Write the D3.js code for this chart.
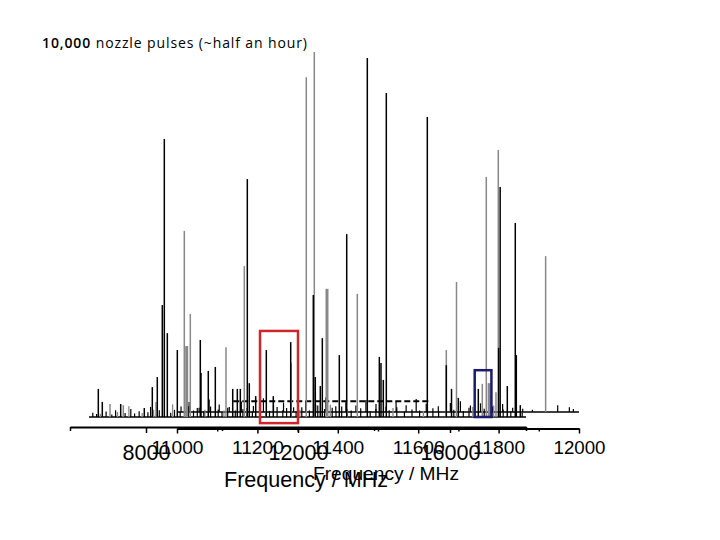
<!DOCTYPE html>
<html><head><meta charset="utf-8">
<script src="https://cdn.jsdelivr.net/npm/d3@7"></script>
<style>body{margin:0;background:#fff}svg{display:block}</style>
</head><body><svg id="c" width="720" height="540"></svg>
<script>
// ---------- text ----------
const titleBold = "10,000";
const titleRest = " nozzle pulses (~half an hour)";
const axisTitle = "Frequency / MHz";

// ---------- axes ----------
const surveyDomain = [6000, 18000];
const surveyTicks = [8000, 12000, 16000];
const surveyMinorTicks = [6000, 10000, 14000, 18000];
const detailDomain = [11000, 12000];
const detailTicks = [11000, 11200, 11400, 11600, 11800, 12000];
const detailMinorTicks = [11100, 11300, 11500, 11700, 11900];

// ---------- survey spectrum (6000-18000 MHz) ----------
const surveyBlackFreq = [6745,6850,7334,7955,8166,8297,8429,8482,8561,8824,9429,9447,9639,9824,10282,10403,10482,10666,10718,10887,11166,11350,11808,12403,12455,12587,12640,13087,13282,13824,14140,14184,14245,14324,15403,15903,16040,16219,16745,17280,17320,17508,17718,17745,17850];
const surveyBlackInt  = [7.8,4.2,3.6,2.5,8.3,11.1,31.1,77.2,23.3,18.6,21.4,12.2,12.8,13.9,7.8,7.8,7.8,66.1,9.4,5.8,18.6,5.8,20.8,33.9,11.1,8.6,21.9,17.2,50.8,99.7,16.7,15,10.3,90,83.3,14.4,7.8,5.3,7.8,19.2,63.9,8.6,53.9,17.2,3.3];
const surveyGrayFreq = [7053,7403,8263,9008,9166,10105,10587,11821,12218,12429,13561,15903,16171,16850,16955,17210,17271];
const surveyGrayInt  = [3.6,3.3,4.2,51.7,28.6,19.4,41.9,15,94.4,101.4,34.2,18.6,37.5,9.2,66.7,6.9,74.2];
const surveyGrayBroadFreq = [9071,12763,17031];
const surveyGrayBroadInt  = [19.7,35.6,9.4];
const surveyNoiseBlackFreq = [6600,6700,6950,7100,7200,7450,7600,7700,7820,8050,8120,8350,8650,8750,8900,9120,9250,9350,9520,9700,9900,10000,10150,10350,10550,10800,11000,11250,11450,11600,11700,11950,12100,12300,12520,12700,12900,13000,13150,13400,13650,13900,14050,14400,14600,14800,15000,15200,15550,15700,16100,16350,16500,16650,16900,17100,17400,17600,17900];
const surveyNoiseBlackInt  = [1.2,0.8,1.5,0.7,1.9,1.1,2.2,1.0,1.6,1.3,2.8,1.9,1.2,2.0,1.4,3.0,1.8,2.5,1.6,2.9,2.1,1.4,2.6,1.8,2.2,1.5,2.4,1.7,2.8,1.9,2.5,1.6,2.7,1.8,3.2,2.2,2.6,1.5,2.9,1.8,2.4,1.6,2.2,1.9,2.7,1.5,2.1,1.8,2.4,1.6,2.0,1.7,2.6,1.9,2.3,1.4,2.1,1.6,1.2];
const surveyNoiseGrayFreq = [6800,7250,7550,7900,8200,8700,9550,10050,10650,11150,12050,12850,13300,14500,15300,16600,17150];
const surveyNoiseGrayInt  = [0.9,1.4,3.0,1.1,2.0,3.5,2.0,1.8,2.5,1.6,2.0,3.4,2.2,2.5,1.7,2.8,3.2];

// ---------- detail spectrum (11000-12000 MHz) ----------
const detailGrayFreq = [11917];
const detailGrayInt  = [43.3];
const detailBlackFreq = [11010,11030,11055,11080,11105,11130,11160,11190,11215,11240,11265,11290,11320,11345,11370,11395,11420,11445,11470,11495,11520,11545,11570,11595,11620,11650,11680,11705,11730,11755,11785,11810,11835,11860,11884,11947,11976,11986];
const detailBlackInt  = [1.5,2.8,1.2,3.5,2.1,1.4,2.9,1.7,3.8,1.9,2.6,1.3,3.1,2.0,4.0,1.6,2.7,1.8,3.3,2.2,1.5,2.9,1.9,3.6,2.3,1.6,2.5,3.0,1.8,2.4,1.5,2.2,1.2,0.9,0.6,1.9,1.3,0.8];
const detailDashedRange = [11140, 11630];
const detailDashedLevel = 3.0;

// ---------- highlight boxes (survey coordinates) ----------
const redBoxFreq = [11000, 12000];
const redBoxInt = [-1.7, 23.9];
const blueBoxFreq = [16650, 17090];
const blueBoxInt = [0, 13];

// ================= drawing =================
const svg = d3.select("#c");
svg.append("rect").attr("width",720).attr("height",540).attr("fill","#fff");

const bx = d3.scaleLinear().domain(surveyDomain).range([70, 526]);
const sx = d3.scaleLinear().domain(detailDomain).range([177, 579]);
const byS = d3.scaleLinear().domain([0, 100]).range([417, 57]);
const byD = d3.scaleLinear().domain([0, 100]).range([412, 52]);

function sticks(g, xs, fr, it, ysc, color, w) {
  g.selectAll(null).data(fr.map((f,i)=>[f,it[i]])).enter().append("line")
    .attr("x1", d=>xs(d[0])).attr("x2", d=>xs(d[0]))
    .attr("y1", ysc(0)).attr("y2", d=>ysc(d[1]))
    .attr("stroke", color).attr("stroke-width", w);
}

// detail plot
const gD = svg.append("g");
gD.append("line").attr("x1", sx(detailDomain[0])).attr("x2", sx(detailDomain[1]))
  .attr("y1", byD(0)).attr("y2", byD(0)).attr("stroke","#000").attr("stroke-width",1.5);
gD.append("line").attr("x1", sx(detailDashedRange[0])).attr("x2", sx(detailDashedRange[1]))
  .attr("y1", byD(detailDashedLevel)).attr("y2", byD(detailDashedLevel))
  .attr("stroke","#000").attr("stroke-width",2).attr("stroke-dasharray","6,3");
sticks(gD, sx, detailGrayFreq, detailGrayInt, byD, "#888", 1.5);
sticks(gD, sx, detailBlackFreq, detailBlackInt, byD, "#000", 1.2);

// survey plot
const gS = svg.append("g");
gS.append("line").attr("x1", bx(6500)).attr("x2", bx(18000))
  .attr("y1", byS(0)).attr("y2", byS(0)).attr("stroke","#000").attr("stroke-width",1.5);
sticks(gS, bx, surveyNoiseGrayFreq, surveyNoiseGrayInt, byS, "#888", 1.3);
sticks(gS, bx, surveyNoiseBlackFreq, surveyNoiseBlackInt, byS, "#000", 1.2);
sticks(gS, bx, surveyGrayBroadFreq, surveyGrayBroadInt, byS, "#888", 3);
sticks(gS, bx, surveyGrayFreq, surveyGrayInt, byS, "#888", 1.5);
sticks(gS, bx, surveyBlackFreq, surveyBlackInt, byS, "#000", 1.5);

// boxes
svg.append("rect").attr("x", bx(redBoxFreq[0])).attr("y", byS(redBoxInt[1]))
  .attr("width", bx(redBoxFreq[1]) - bx(redBoxFreq[0]))
  .attr("height", byS(redBoxInt[0]) - byS(redBoxInt[1]))
  .attr("fill","none").attr("stroke","#d0262b").attr("stroke-width",2.5);
svg.append("rect").attr("x", bx(blueBoxFreq[0])).attr("y", byS(blueBoxInt[1]))
  .attr("width", bx(blueBoxFreq[1]) - bx(blueBoxFreq[0]))
  .attr("height", byS(blueBoxInt[0]) - byS(blueBoxInt[1]))
  .attr("fill","none").attr("stroke","#1b1c6e").attr("stroke-width",2.5);

// axes
function styleAxis(g, size, yText, perDigit) {
  g.select(".domain").attr("stroke","#000").attr("stroke-width",2);
  g.selectAll(".tick line").attr("stroke","#000").attr("stroke-width",1.5);
  g.selectAll(".tick text")
    .attr("font-family","'Liberation Sans', Arial, sans-serif")
    .attr("font-size", size).attr("fill","#000")
    .attr("y", yText).attr("dy", 0)
    .attr("textLength", function(){ return this.textContent.length*perDigit; })
    .attr("lengthAdjust","spacingAndGlyphs");
}
const axS = svg.append("g").attr("transform","translate(0,427)")
  .call(d3.axisBottom(bx).tickValues(surveyTicks).tickSize(6).tickSizeOuter(0).tickFormat(d3.format("d")));
styleAxis(axS, 22, 33, 12);
svg.append("g").attr("transform","translate(0,427)")
  .call(d3.axisBottom(bx).tickValues(surveyMinorTicks).tickSize(4).tickSizeOuter(0).tickFormat(""))
  .call(g=>{g.select(".domain").remove(); g.selectAll("line").attr("stroke","#000").attr("stroke-width",1.5);});

const axD = svg.append("g").attr("transform","translate(0,428.5)")
  .call(d3.axisBottom(sx).tickValues(detailTicks).tickSize(5).tickSizeOuter(0).tickFormat(d3.format("d")));
styleAxis(axD, 18, 25, 10.4);
svg.append("g").attr("transform","translate(0,428.5)")
  .call(d3.axisBottom(sx).tickValues(detailMinorTicks).tickSize(3).tickSizeOuter(0).tickFormat(""))
  .call(g=>{g.select(".domain").remove(); g.selectAll("line").attr("stroke","#000").attr("stroke-width",1.5);});

// axis titles
svg.append("text").attr("x", 386).attr("y", 480).attr("text-anchor","middle")
  .attr("font-family","'Liberation Sans', Arial, sans-serif").attr("font-size",19)
  .attr("textLength",146).attr("lengthAdjust","spacingAndGlyphs").text(axisTitle);
svg.append("text").attr("x", 306).attr("y", 487).attr("text-anchor","middle")
  .attr("font-family","'Liberation Sans', Arial, sans-serif").attr("font-size",22)
  .attr("textLength",164).attr("lengthAdjust","spacingAndGlyphs").text(axisTitle);

// slide title
const t = svg.append("text").attr("x", 42).attr("y", 48)
  .attr("font-family","'Open Sans', 'Liberation Sans', sans-serif").attr("font-size",14)
  .attr("fill","#000").attr("textLength",265).attr("lengthAdjust","spacing");
t.append("tspan").attr("font-weight",600).text(titleBold);
t.append("tspan").text(titleRest);
</script></body></html>
